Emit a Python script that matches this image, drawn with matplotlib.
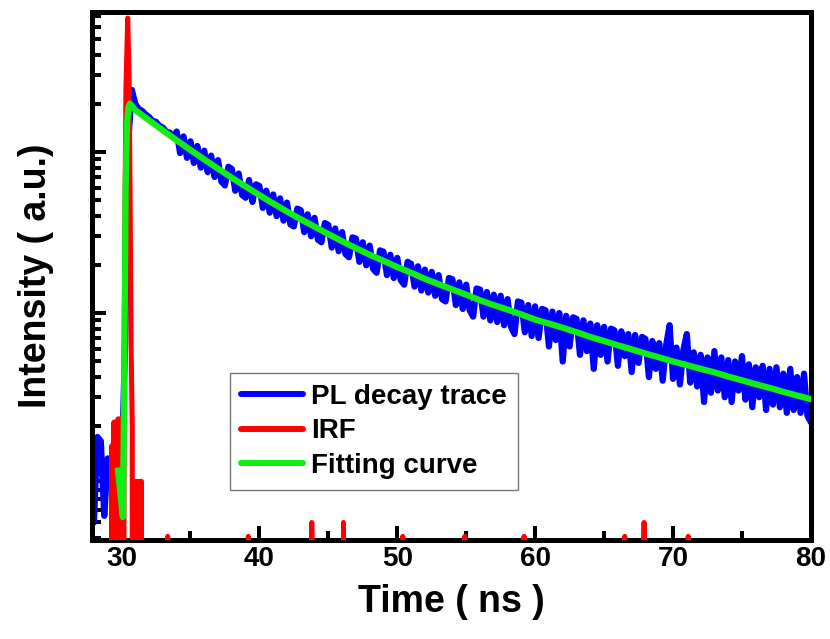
import numpy as np
import matplotlib
matplotlib.use("Agg")
import matplotlib.pyplot as plt
from matplotlib.ticker import LogLocator, NullFormatter, MultipleLocator

# PL decay trace, sampled every 0.25 ns starting at 27.75 ns (counts)
pl_t0 = 27.75
pl_dt = 0.25
pl_counts = [
    17,
    5, 17, 16, 5.5,            # 28
    12.5, 12, 6, 10,           # 29
    9, 60, 1200, 2430,         # 30
    1990, 1850, 1800, 1710,    # 31
    1650, 1560, 1540, 1450,    # 32
    1420, 1330, 1320, 1230,    # 33
    1340, 985, 1250, 920,      # 34
    1165, 855, 1090, 800,      # 35
    1020, 750, 950, 700,       # 36
    890, 655, 620, 810,        # 37
    785, 575, 735, 540,        # 38
    520, 670, 490, 630,        # 39
    615, 450, 575, 420,        # 40
    545, 400, 515, 375,        # 41
    485, 355, 345, 445,        # 42
    435, 318, 410, 300,        # 43
    390, 285, 275, 362,        # 44
    352, 255, 335, 242,        # 45
    318, 232, 222, 295,        # 46
    290, 208, 275, 198,        # 47
    262, 188, 178, 245,        # 48
    240, 172, 230, 165,        # 49
    220, 160, 150, 208,        # 50
    202, 146, 195, 138,        # 51
    186, 134, 180, 128,        # 52
    172, 122, 118, 165,        # 53
    162, 112, 155, 106,        # 54
    150, 104, 95, 142,         # 55
    140, 95, 135, 90,          # 56
    130, 88, 128, 84,          # 57
    122, 82, 74, 118,          # 58
    116, 76, 112, 72,          # 59
    110, 70, 106, 104,         # 60
    62, 102, 68, 100,          # 61
    50, 96, 62, 94,            # 62
    92, 55, 90, 58,            # 63
    86, 45, 84, 55,            # 64
    82, 50, 80, 78,            # 65
    47, 77, 54, 74,            # 66
    43, 73, 49, 71,            # 67
    69, 40, 67, 45,            # 68
    65, 38, 63, 84,            # 69
    39, 61, 36, 59,            # 70
    74, 37, 57, 35,            # 71
    55, 28, 53, 32,            # 72
    58, 33, 53, 30,            # 73
    51, 28, 50, 33,            # 74
    54, 29, 48, 26,            # 75
    46, 30, 47, 25,            # 76
    45, 27, 46, 26,            # 77
    42, 24, 45, 25,            # 78
    40, 24, 42, 23,            # 79
    21,                        # 80
]
pl_t = pl_t0 + pl_dt * np.arange(len(pl_counts))

# instrument response function (0 = no counts)
irf_t = [29.2, 29.3, 29.38, 29.45, 29.52, 29.6, 29.68, 29.75, 29.82, 29.9,
         29.97, 30.05, 30.12, 30.18, 30.25, 30.32, 30.45, 30.55, 30.62, 30.7, 30.78,
         30.85, 30.95, 31.05, 31.15, 31.25, 31.35, 31.45, 31.52,
         33.25, 33.35, 33.45, 39.1, 39.2, 39.3, 43.75, 43.8, 43.85,
         46.05, 46.1, 46.15, 50.3, 50.4, 50.5, 54.8, 54.9, 55.0,
         59.1, 59.2, 59.3, 66.4, 66.5, 66.6, 67.85, 67.9, 67.95,
         71.0, 71.1, 71.2]
irf_counts = [0, 15, 0, 21, 0, 21, 0, 22, 0, 22,
              0, 22, 0, 40, 400, 2500, 6800, 3000, 600, 60, 20,
              0, 9, 0, 9, 0, 9, 9, 0,
              0, 4.1, 0, 0, 4.1, 0, 0, 5.0, 0,
              0, 5.0, 0, 0, 4.1, 0, 0, 4.1, 0,
              0, 4.1, 0, 0, 4.1, 0, 0, 5.0, 0,
              0, 4.1, 0]

# fitted curve
fit_t = [29.75, 30.1, 30.2, 30.3, 30.4, 30.5, 30.62] + list(range(31, 81))
fit_counts = [10.5, 5.4, 40, 600, 1500, 1900, 2000,
              1822, 1575, 1363, 1183, 1029, 900, 788, 692, 611, 540,
              479, 427, 382, 344, 309, 279, 253, 230, 211, 193,
              178, 163, 151, 140, 130, 120, 112, 105, 98, 91,
              86, 81, 76, 71, 67, 63, 59.5, 56, 53, 50,
              47.5, 45, 42.8, 40.3, 38.2, 36.1, 34.3, 32.4, 30.7, 29.2]

plt.rcParams['font.family'] = ['Liberation Sans', 'DejaVu Sans']
plt.rcParams['font.weight'] = 'bold'
plt.rcParams['axes.labelweight'] = 'bold'

fig = plt.figure(figsize=(8.3, 6.39), dpi=100)
ax = fig.add_axes([0.1105, 0.1557, 0.8665, 0.8263])

ax.plot(pl_t, pl_counts, color='#0000ff', lw=4.5, label='PL decay trace', zorder=2)
ax.plot(irf_t, irf_counts, color='#ff0000', lw=3.6, label='IRF', zorder=3,
        solid_capstyle='round', solid_joinstyle='round')
ax.plot(fit_t, fit_counts, color='#11ee11', lw=4.5, label='Fitting curve', zorder=4)

ax.set_yscale('log')
ax.set_xlim(27.84, 80)
ax.set_ylim(3.92, 7460)

ax.yaxis.set_major_locator(LogLocator(base=10, numticks=10))
ax.yaxis.set_minor_locator(LogLocator(base=10, subs=np.arange(2, 10), numticks=20))
ax.yaxis.set_major_formatter(NullFormatter())
ax.yaxis.set_minor_formatter(NullFormatter())
ax.xaxis.set_major_locator(MultipleLocator(10))
ax.xaxis.set_minor_locator(MultipleLocator(5))

ax.tick_params(which='both', direction='in', top=False, right=False, width=2.9)
ax.tick_params(which='major', length=10.4, labelsize=20, pad=5)
ax.tick_params(which='minor', length=6.5)
for s in ax.spines.values():
    s.set_linewidth(3.6)

ax.set_xlabel('Time ( ns )', fontsize=27, labelpad=8)
ax.set_ylabel('Intensity ( a.u.)', fontsize=27, labelpad=22)

leg = ax.legend(loc='lower left', bbox_to_anchor=(0.192, 0.094), borderaxespad=0,
                fontsize=20, fancybox=False, edgecolor='#555555',
                handlelength=2.25, handletextpad=0.27, labelspacing=0.3, borderpad=0.4)
leg.get_frame().set_linewidth(1.0)
for h in leg.legend_handles:
    h.set_linewidth(4.3)
    h.set_solid_capstyle('round')

fig.savefig('out.png', dpi=100)
